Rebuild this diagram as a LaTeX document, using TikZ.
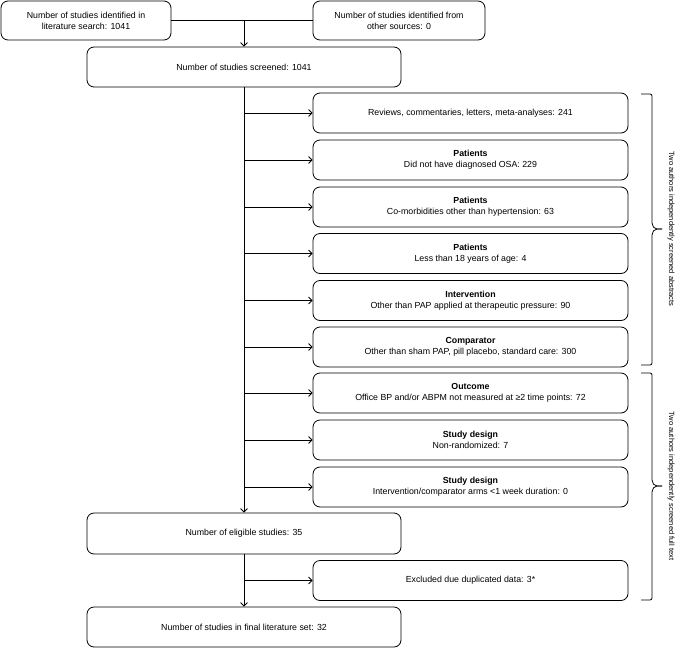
\documentclass[tikz,border=0pt]{standalone}
\usepackage{fontspec}
\setmainfont{Liberation Sans}
\usetikzlibrary{arrows.meta}
\begin{document}
\begin{tikzpicture}[x=1pt,y=-1pt,
  box/.style={draw, line width=0.8pt, rounded corners=7pt, align=center, inner sep=0pt, font=\fontsize{8.8}{11}\selectfont},
  lbox/.style={box, minimum width=314pt, minimum height=40pt},
  rbox/.style={box, minimum width=315pt, minimum height=40pt},
  line/.style={line width=0.8pt},
  arr/.style={line width=0.8pt, -{Straight Barb[length=3.5pt,width=7pt]}},
  brlabel/.style={rotate=-90, font=\fontsize{7.5}{9}\selectfont}
]
\useasboundingbox (0,0) rectangle (680,648);

\node[box, minimum width=170pt, minimum height=39pt] (lit) at (86,20.5) {Number of studies identified in\\literature search: 1041};
\node[box, minimum width=172pt, minimum height=39pt] (oth) at (399,20.5) {Number of studies identified from\\other sources: 0};
\node[lbox] (scr) at (244,67) {Number of studies screened: 1041};

\node[rbox] (r1) at (470.5,113) {Reviews, commentaries, letters, meta-analyses: 241};
\node[rbox] (r2) at (470.5,160) {\textbf{Patients}\\Did not have diagnosed OSA: 229};
\node[rbox] (r3) at (470.5,207) {\textbf{Patients}\\Co-morbidities other than hypertension: 63};
\node[rbox] (r4) at (470.5,253.5) {\textbf{Patients}\\Less than 18 years of age: 4};
\node[rbox] (r5) at (470.5,300.5) {\textbf{Intervention}\\Other than PAP applied at therapeutic pressure: 90};
\node[rbox] (r6) at (470.5,347) {\textbf{Comparator}\\Other than sham PAP, pill placebo, standard care: 300};
\node[rbox] (r7) at (470.5,393) {\textbf{Outcome}\\Office BP and/or ABPM not measured at ≥2 time points: 72};
\node[rbox] (r8) at (470.5,440) {\textbf{Study design}\\Non-randomized: 7};
\node[rbox] (r9) at (470.5,487) {\textbf{Study design}\\Intervention/comparator arms <1 week duration: 0};

\node[lbox, minimum height=41pt] (eli) at (244,533.5) {Number of eligible studies: 35};
\node[rbox] (exc) at (470.5,580.5) {Excluded due duplicated data: 3*};
\node[lbox] (fin) at (244,627) {Number of studies in final literature set: 32};

\draw[line] (lit.east) -- (oth.west);
\draw[arr] (lit.east -| scr.north) -- (scr.north);
\draw[arr] (scr.south) -- (eli.north);
\foreach \r in {r1,r2,r3,r4,r5,r6,r7,r8,r9}{
  \draw[arr] (scr.south |- \r.west) -- (\r.west);
}
\draw[arr] (eli.south) -- (fin.north);
\draw[arr] (eli.south |- exc.west) -- (exc.west);

% braces
\draw[line, rounded corners=2pt] (641,94) -- (652,94) -- (652,225) -- (655,229) -- (662,229);
\draw[line, rounded corners=2pt] (662,229) -- (655,229) -- (652,233) -- (652,365) -- (641,365);
\draw[line, rounded corners=2pt] (641,373) -- (652,373) -- (652,482) -- (655,486) -- (662,486);
\draw[line, rounded corners=2pt] (662,486) -- (655,486) -- (652,490) -- (652,600) -- (641,600);

\node[brlabel] (t1) at (671,229) {Two authors independently screened abstracts};
\node[brlabel] (t2) at (671,486) {Two authors independently screened full text};
\end{tikzpicture}
\end{document}
